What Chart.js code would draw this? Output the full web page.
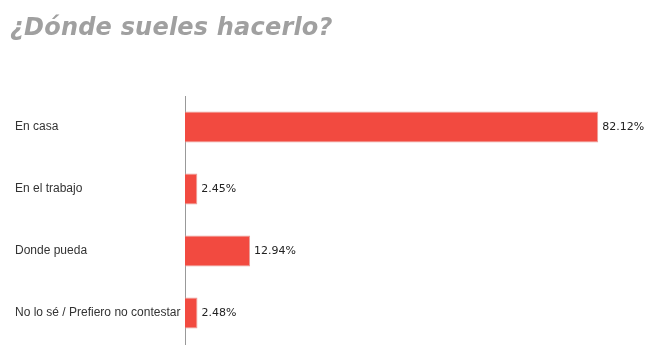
<!DOCTYPE html>
<html>
<head>
<meta charset="utf-8">
<script src="https://cdn.jsdelivr.net/npm/chart.js@4.4.1/dist/chart.umd.min.js"></script>
<style>
  html, body { margin: 0; padding: 0; background: #fff; }
  #wrap { position: relative; width: 668px; height: 351px; }
  #chart { display: block; }
  #title {
    position: absolute; left: 10px; top: 13px;
    font: italic bold 24px "DejaVu Sans", sans-serif;
    color: #a0a0a0; letter-spacing: 0.2px; white-space: nowrap;
  }
</style>
</head>
<body>
<div id="wrap">
  <div id="title">¿Dónde sueles hacerlo?</div>
  <canvas id="chart" width="668" height="351"></canvas>
</div>
<script>
// datos del gráfico
const categories = ["En casa", "En el trabajo", "Donde pueda", "No lo sé / Prefiero no contestar"];
const values = [82.12, 2.45, 12.94, 2.48];

// etiquetas de valor al final de cada barra
const valueLabels = {
  id: "valueLabels",
  afterDatasetsDraw(chart) {
    const ctx = chart.ctx;
    const meta = chart.getDatasetMeta(0);
    ctx.save();
    ctx.font = "11px 'DejaVu Sans'";
    ctx.fillStyle = "#222";
    ctx.textBaseline = "middle";
    meta.data.forEach((bar, i) => {
      ctx.fillText(values[i].toFixed(2) + "%", bar.x + 4, bar.y);
    });
    ctx.restore();
  }
};

const ctx = document.getElementById("chart").getContext("2d");
new Chart(ctx, {
  type: "bar",
  data: {
    labels: categories,
    datasets: [{
      data: values,
      backgroundColor: "#f24a40",
      borderColor: "#e8a09a",
      borderWidth: 1,
      borderSkipped: "left",
      barPercentage: 0.5,
      categoryPercentage: 1
    }]
  },
  options: {
    indexAxis: "y",
    responsive: false,
    animation: false,
    layout: { padding: { left: 15, right: 10, top: 96, bottom: 7 } },
    scales: {
      x: {
        display: false,
        min: 0,
        max: 94
      },
      y: {
        afterFit(scale) {
          scale.width = 170;
          scale.paddingTop = 0;
          scale.paddingBottom = 0;
        },
        grid: { display: false, drawTicks: false },
        border: { display: true, color: "#999", width: 1 },
        ticks: {
          crossAlign: "far",
          padding: 4,
          color: "#333",
          font: { family: "'Liberation Sans'", size: 12 }
        }
      }
    },
    plugins: {
      legend: { display: false },
      tooltip: { enabled: false }
    }
  },
  plugins: [valueLabels]
});
</script>
</body>
</html>
